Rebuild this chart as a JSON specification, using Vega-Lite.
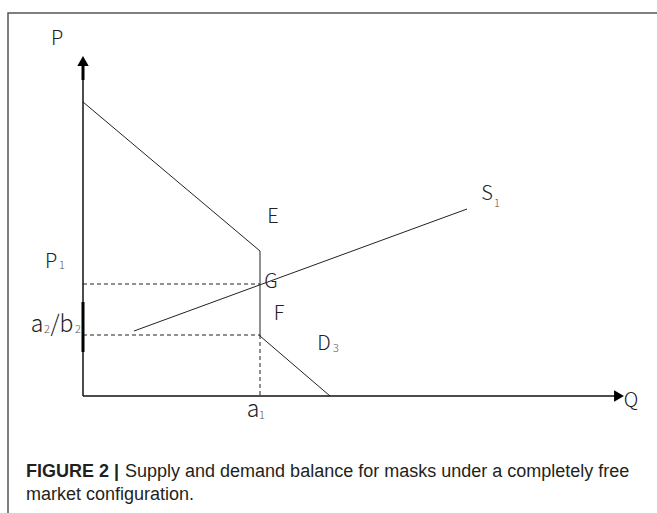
{
  "$schema": "https://vega.github.io/schema/vega-lite/v6.json",
  "width": 657,
  "height": 513,
  "padding": 0,
  "autosize": {"type": "none"},
  "background": "white",
  "config": {"view": {"stroke": null}},
  "datasets": {
    "frame": [
      {"id": "f", "o": 1, "q": -75, "p": -117},
      {"id": "f", "o": 2, "q": -75, "p": 383},
      {"id": "f", "o": 3, "q": 574, "p": 383}
    ],
    "curves": [
      {"id": "D", "o": 1, "q": 0, "p": 294},
      {"id": "D", "o": 2, "q": 177, "p": 145},
      {"id": "D", "o": 3, "q": 177, "p": 60},
      {"id": "D", "o": 4, "q": 247, "p": 0},
      {"id": "S", "o": 1, "q": 51, "p": 65},
      {"id": "S", "o": 2, "q": 384, "p": 187}
    ],
    "dashed": [
      {"id": "h1", "o": 1, "q": 0, "p": 112},
      {"id": "h1", "o": 2, "q": 177, "p": 112},
      {"id": "h2", "o": 1, "q": 0, "p": 61},
      {"id": "h2", "o": 2, "q": 177, "p": 61},
      {"id": "v1", "o": 1, "q": 177, "p": 61},
      {"id": "v1", "o": 2, "q": 177, "p": 0}
    ],
    "axes": [
      {"id": "y", "o": 1, "q": 0, "p": 0},
      {"id": "y", "o": 2, "q": 0, "p": 318},
      {"id": "x", "o": 1, "q": 0, "p": 0},
      {"id": "x", "o": 2, "q": 533, "p": 0}
    ],
    "thick": [
      {"id": "shaft", "o": 1, "q": 0, "p": 316},
      {"id": "shaft", "o": 2, "q": 0, "p": 333},
      {"id": "bar", "o": 1, "q": 0, "p": 44},
      {"id": "bar", "o": 2, "q": 0, "p": 94}
    ],
    "heads": [
      {"dir": "up", "q": 0, "p": 335},
      {"dir": "right", "q": 536, "p": 0}
    ],
    "upper": [
      {"t": "P", "q": -26, "p": 351},
      {"t": "P", "q": -32, "p": 128},
      {"t": "E", "q": 190, "p": 173},
      {"t": "G", "q": 188, "p": 108},
      {"t": "F", "q": 196, "p": 76},
      {"t": "D", "q": 241, "p": 46},
      {"t": "S", "q": 404, "p": 196},
      {"t": "Q", "q": 548, "p": -11}
    ],
    "lower": [
      {"t": "a", "q": -46, "p": 64},
      {"t": "/b", "q": -21, "p": 64},
      {"t": "a", "q": 170, "p": -21}
    ],
    "subs": [
      {"t": "1", "q": -21, "p": 127},
      {"t": "2", "q": -36, "p": 63},
      {"t": "2", "q": -5, "p": 63},
      {"t": "1", "q": 179, "p": -23},
      {"t": "3", "q": 253, "p": 44},
      {"t": "1", "q": 414, "p": 189}
    ],
    "capbold": [
      {"t": "FIGURE 2 |", "q": -57, "p": -81}
    ],
    "capreg": [
      {"t": "Supply and demand balance for masks under a completely free", "q": 42, "p": -81},
      {"t": "market configuration.", "q": -57, "p": -104}
    ]
  },
  "encoding": {
    "x": {"field": "q", "type": "quantitative", "axis": null, "scale": {"domain": [-83, 574], "nice": false, "zero": false}},
    "y": {"field": "p", "type": "quantitative", "axis": null, "scale": {"domain": [-117, 396], "nice": false, "zero": false}}
  },
  "layer": [
    {
      "data": {"name": "frame"},
      "mark": {"type": "line", "color": "#555555", "strokeWidth": 1.5},
      "encoding": {"detail": {"field": "id"}, "order": {"field": "o"}}
    },
    {
      "data": {"name": "dashed"},
      "mark": {"type": "line", "color": "#222222", "strokeWidth": 1, "strokeDash": [4, 3]},
      "encoding": {"detail": {"field": "id"}, "order": {"field": "o"}}
    },
    {
      "data": {"name": "curves"},
      "mark": {"type": "line", "color": "#222222", "strokeWidth": 1},
      "encoding": {"detail": {"field": "id"}, "order": {"field": "o"}}
    },
    {
      "data": {"name": "axes"},
      "mark": {"type": "line", "color": "#111111", "strokeWidth": 1.5},
      "encoding": {"detail": {"field": "id"}, "order": {"field": "o"}}
    },
    {
      "data": {"name": "thick"},
      "mark": {"type": "line", "color": "#000000", "strokeWidth": 3},
      "encoding": {"detail": {"field": "id"}, "order": {"field": "o"}}
    },
    {
      "data": {"name": "heads"},
      "mark": {"type": "point", "filled": true, "color": "#000000", "size": 130, "opacity": 1},
      "encoding": {
        "shape": {"field": "dir", "type": "nominal", "scale": {"domain": ["up", "right"], "range": ["triangle-up", "triangle-right"]}, "legend": null}
      }
    },
    {
      "data": {"name": "upper"},
      "mark": {"type": "text", "font": "Noto Sans CJK SC", "fontWeight": 300, "fontSize": 20, "color": "#222222", "align": "center", "baseline": "alphabetic"},
      "encoding": {"text": {"field": "t"}}
    },
    {
      "data": {"name": "lower"},
      "mark": {"type": "text", "font": "Noto Sans CJK SC", "fontWeight": 300, "fontSize": 23, "color": "#222222", "align": "center", "baseline": "alphabetic"},
      "encoding": {"text": {"field": "t"}}
    },
    {
      "data": {"name": "subs"},
      "mark": {"type": "text", "font": "Noto Sans CJK SC", "fontWeight": 300, "fontSize": 11, "color": "#555555", "align": "center", "baseline": "alphabetic"},
      "encoding": {"text": {"field": "t"}}
    },
    {
      "data": {"name": "capbold"},
      "mark": {"type": "text", "font": "Liberation Sans", "fontWeight": "bold", "fontSize": 18, "color": "#231f20", "align": "left", "baseline": "alphabetic"},
      "encoding": {"text": {"field": "t"}}
    },
    {
      "data": {"name": "capreg"},
      "mark": {"type": "text", "font": "Liberation Sans", "fontWeight": "normal", "fontSize": 18, "color": "#231f20", "align": "left", "baseline": "alphabetic"},
      "encoding": {"text": {"field": "t"}}
    }
  ]
}
